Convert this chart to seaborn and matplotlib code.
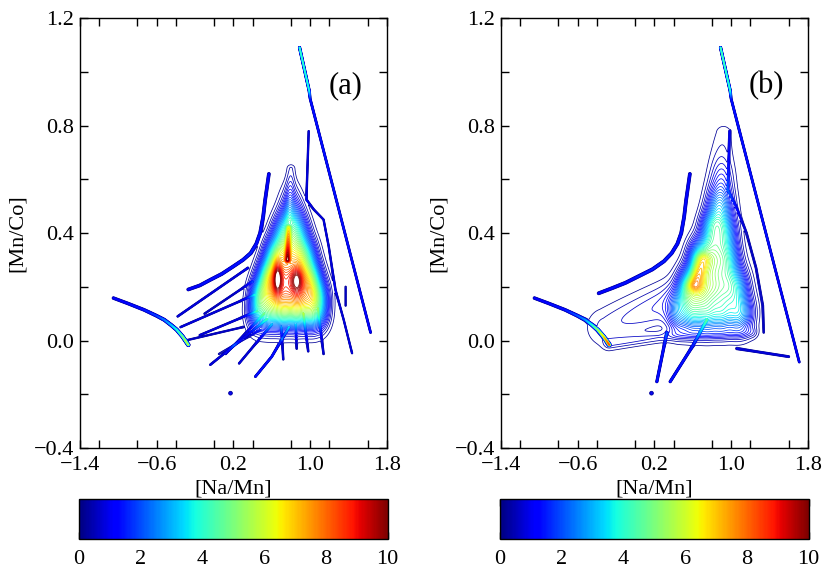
import numpy as np
import matplotlib
matplotlib.use("Agg")
import matplotlib.pyplot as plt
import seaborn as sns
from matplotlib.colors import Normalize
from matplotlib.cm import ScalarMappable
from matplotlib.ticker import FixedLocator, MultipleLocator, FuncFormatter

sns.set_theme(style="ticks")
plt.rcParams["font.family"] = ["Liberation Serif", "DejaVu Serif"]

# ---------------- labels / ticks ----------------
x_label = "[Na/Mn]"
y_label = "[Mn/Co]"
panel_labels = ["(a)", "(b)"]
x_ticks = [-1.4, -0.6, 0.2, 1.0, 1.8]
y_ticks = [-0.4, 0.0, 0.4, 0.8, 1.2]
cbar_ticks = [0, 2, 4, 6, 8, 10]
levels = np.arange(0.2, 10.01, 0.2)

# ---------------- density tracks (x, y, density at vertex) ----------------
long_a_x = [0.89, 0.99, 1.00, 1.63]
long_a_y = [1.09, 0.93, 0.90, 0.03]
long_a_d = [4.2, 3.8, 1.6, 1.3]
long_b_x = [0.89, 0.99, 1.00, 1.71]
long_b_y = [1.09, 0.93, 0.90, -0.08]
long_b_d = [4.4, 4.0, 1.6, 1.3]

left_x = [-1.05, -0.90, -0.73, -0.60, -0.52, -0.45, -0.39, -0.33, -0.27]
left_y = [0.158, 0.138, 0.114, 0.092, 0.077, 0.058, 0.040, 0.015, -0.016]
left_a_d = [1.3, 1.4, 1.6, 2.0, 2.6, 3.3, 4.0, 5.0, 5.8]
left_b_d = [1.3, 1.4, 1.6, 2.2, 2.8, 3.8, 5.0, 6.5, 7.8]

arc_a_x = [-0.27, -0.15, -0.04, 0.08, 0.20, 0.30, 0.38, 0.44, 0.48, 0.51, 0.53, 0.55, 0.57]
arc_a_y = [0.19, 0.205, 0.226, 0.248, 0.276, 0.30, 0.325, 0.36, 0.40, 0.46, 0.52, 0.57, 0.62]
arc_b_x = [-0.38, -0.24, -0.10, 0.04, 0.18, 0.30, 0.38, 0.44, 0.48, 0.51, 0.53, 0.55, 0.57]
arc_b_y = [0.176, 0.195, 0.215, 0.24, 0.265, 0.295, 0.325, 0.36, 0.40, 0.46, 0.52, 0.57, 0.62]
arc_d = [1.3, 1.4, 1.5, 1.6, 1.6, 1.6, 1.6, 1.5, 1.5, 1.4, 1.4, 1.3, 1.3]

branch_a_x = [0.985, 0.961, 1.04, 1.14, 1.194, 1.263, 1.35, 1.437]
branch_a_y = [0.779, 0.524, 0.487, 0.45, 0.35, 0.189, 0.077, -0.047]
branch_a_d = [0.9, 0.9, 0.9, 0.9, 0.9, 0.9, 0.9, 0.9]

branch_b_x = [0.985, 0.965, 1.05, 1.16, 1.26, 1.33, 1.34]
branch_b_y = [0.78, 0.56, 0.50, 0.40, 0.27, 0.13, 0.03]
branch_b_d = [0.9, 0.9, 0.8, 0.7, 0.7, 0.7, 0.6]

rays_a_x = [[0.35, -0.38], [0.42, -0.35], [0.45, -0.15], [0.55, -0.04],
            [0.60, 0.26], [0.78, 0.60, 0.43], [0.52, 0.12], [0.93, 0.98],
            [1.08, 1.14], [0.70, 0.72], [0.30, -0.30], [1.37, 1.37],
            [0.40, -0.10], [0.85, 0.86], [0.48, 0.05]]
rays_a_y = [[0.27, 0.09], [0.17, 0.05], [0.11, 0.02], [0.08, -0.09],
            [0.06, -0.085], [0.05, -0.06, -0.134], [0.10, -0.05], [0.10, -0.04],
            [0.12, -0.05], [0.05, -0.07], [0.05, 0.00], [0.20, 0.13],
            [0.22, 0.10], [0.06, -0.03], [0.04, -0.05]]
rays_a_d = [1.0, 0.9, 0.9, 1.0, 0.9, 1.5, 0.8, 0.8, 0.8, 0.8, 0.7, 0.6, 0.8, 0.7, 0.6]

rays_b_x = [[0.33, 0.226], [0.747, 0.60, 0.365], [1.06, 1.60]]
rays_b_y = [[0.03, -0.153], [0.077, -0.02, -0.153], [-0.03, -0.06]]
rays_b_d = [1.5, 1.5, 0.9]

dot_x = [0.17]
dot_y = [-0.196]
dot_d = [1.2]

# ---------------- central cloud: kernel centres and weights ----------------
cloud_a_x = [0.45, 0.58, 0.72, 0.86, 1.00, 1.10,
             0.48, 0.62, 0.75, 0.88, 1.00, 1.10,
             0.55, 0.66, 0.78, 0.90, 1.02,
             0.62, 0.74, 0.86, 0.97,
             0.70, 0.80, 0.90,
             0.77, 0.85,
             0.80]
cloud_a_y = [0.10] * 6 + [0.17] * 6 + [0.24] * 5 + [0.32] * 4 + [0.40] * 3 + [0.47] * 2 + [0.54]
cloud_a_w = [2.1, 2.6, 2.9, 2.9, 2.6, 1.7,
             3.1, 3.7, 3.9, 3.9, 3.3, 1.9,
             3.1, 4.0, 3.9, 4.0, 2.7,
             2.8, 3.5, 3.3, 2.2,
             2.0, 2.2, 1.7,
             1.1, 0.9,
             0.5]
spots_a_cx = [0.66, 0.86]
spots_a_cy = [0.235, 0.225]
spots_a_sx = [0.03, 0.04]
spots_a_sy = [0.045, 0.035]
spots_a_amp = [2.6, 2.0]
streak_a_x = [0.765, 0.775]
streak_a_y = [0.30, 0.42]
streak_a_d = [3.2, 2.0]
spike_a_x = [0.78, 0.80]
spike_a_y = [0.45, 0.64]
spike_a_d = [0.8, 0.4]

cloud_b_x = [0.45, 0.60, 0.75, 0.90, 1.05, 1.15,
             0.55, 0.68, 0.82, 0.96, 1.08,
             0.66, 0.78, 0.90, 1.00,
             0.78, 0.88, 0.97,
             0.86, 0.94,
             0.92]
cloud_b_y = [0.10] * 6 + [0.20] * 5 + [0.30] * 4 + [0.40] * 3 + [0.50] * 2 + [0.60]
cloud_b_w = [1.9, 2.5, 2.7, 2.6, 2.2, 1.4,
             2.9, 3.7, 3.1, 2.7, 2.0,
             3.2, 2.9, 2.4, 1.7,
             2.2, 2.0, 1.5,
             1.3, 1.0,
             0.6]
diag_b_x = [0.62, 0.70]
diag_b_y = [0.21, 0.30]
diag_b_d = [2.0, 1.5]
apex_b_x = [0.82, 0.92]
apex_b_y = [0.45, 0.77]
apex_b_d = [0.9, 0.3]
base_b_x = [-0.27, 0.40, 1.22]
base_b_y = [-0.01, 0.02, 0.03]
base_b_d = [0.5, 0.5, 0.45]
wing_b_x = [-0.30, 0.50]
wing_b_y = [0.05, 0.16]
wing_b_d = [0.5, 1.0]

# ---------------- field construction ----------------
SX, SY = 96.0, 269.0  # pixels per data unit
xg = np.linspace(-1.4, 1.8, 1200)
yg = np.linspace(-0.4, 1.2, 1400)
X, Y = np.meshgrid(xg, yg)


def ridge(xs, ys, ds, w):
    Z = np.zeros_like(X)
    Xp, Yp = X * SX, Y * SY
    for i in range(len(xs) - 1):
        x0, y0 = xs[i] * SX, ys[i] * SY
        x1, y1 = xs[i + 1] * SX, ys[i + 1] * SY
        dx, dy = x1 - x0, y1 - y0
        L2 = max(dx * dx + dy * dy, 1e-9)
        t = np.clip(((Xp - x0) * dx + (Yp - y0) * dy) / L2, 0, 1)
        d2 = (Xp - x0 - t * dx) ** 2 + (Yp - y0 - t * dy) ** 2
        a = ds[i] * (1 - t) + ds[i + 1] * t
        Z = np.maximum(Z, a * np.exp(-d2 / (2 * w * w)))
    return Z


def gauss(cx, cy, sx, sy, amp):
    Z = np.zeros_like(X)
    for a, b, c, d, e in zip(cx, cy, sx, sy, amp):
        Z += e * np.exp(-0.5 * (((X - a) / c) ** 2 + ((Y - b) / d) ** 2))
    return Z


def kernels(xs, ys, ws, sx, sy):
    return gauss(xs, ys, [sx] * len(xs), [sy] * len(xs), ws)


def dots(xs, ys, ds, w):
    Z = np.zeros_like(X)
    for a, b, e in zip(xs, ys, ds):
        Z += e * np.exp(-(((X - a) * SX) ** 2 + ((Y - b) * SY) ** 2) / (2 * w * w))
    return Z


Za = (ridge(long_a_x, long_a_y, long_a_d, 0.5)
      + ridge(left_x, left_y, left_a_d, 0.7)
      + ridge(arc_a_x, arc_a_y, arc_d, 0.75)
      + ridge(branch_a_x, branch_a_y, branch_a_d, 0.45)
      + dots(dot_x, dot_y, dot_d, 1.0)
      + kernels(cloud_a_x, cloud_a_y, cloud_a_w, 0.07, 0.045)
      + gauss(spots_a_cx, spots_a_cy, spots_a_sx, spots_a_sy, spots_a_amp)
      + ridge(streak_a_x, streak_a_y, streak_a_d, 1.5)
      + ridge(spike_a_x, spike_a_y, spike_a_d, 3.0))
for rx, ry, rd in zip(rays_a_x, rays_a_y, rays_a_d):
    Za = Za + ridge(rx, ry, [rd] * len(rx), 0.5)

Zb = (ridge(long_b_x, long_b_y, long_b_d, 0.5)
      + ridge(left_x, left_y, left_b_d, 0.7)
      + ridge(arc_b_x, arc_b_y, arc_d, 0.75)
      + ridge(branch_b_x, branch_b_y, branch_b_d, 0.55)
      + dots(dot_x, dot_y, dot_d, 1.0)
      + kernels(cloud_b_x, cloud_b_y, cloud_b_w, 0.075, 0.05)
      + ridge(diag_b_x, diag_b_y, diag_b_d, 5.0)
      + ridge(apex_b_x, apex_b_y, apex_b_d, 8.0)
      + ridge(base_b_x, base_b_y, base_b_d, 4.0)
      + ridge(wing_b_x, wing_b_y, wing_b_d, 14.0))
for rx, ry, rd in zip(rays_b_x, rays_b_y, rays_b_d):
    Zb = Zb + ridge(rx, ry, [rd] * len(rx), 0.6)

# ---------------- figure ----------------
fig = plt.figure(figsize=(8.32, 5.74), dpi=100)
norm = Normalize(vmin=0, vmax=10)
cmap = plt.get_cmap("jet")

ax_pos = [[0.096, 0.2195, 0.369, 0.749], [0.602, 0.2195, 0.369, 0.749]]
cb_pos = [[0.095, 0.061, 0.371, 0.070], [0.601, 0.061, 0.371, 0.070]]


def fmt(v, pos=None):
    s = f"{v:.1f}"
    if s == "-0.0":
        s = "0.0"
    return s.replace("-", "\u2212")


for k, Z in enumerate([Za, Zb]):
    ax = fig.add_axes(ax_pos[k])
    ax.contour(X, Y, Z, levels=levels, cmap=cmap, norm=norm, linewidths=0.55)
    ax.set_xlim(-1.4, 1.8)
    ax.set_ylim(-0.4, 1.2)
    ax.xaxis.set_major_locator(FixedLocator(x_ticks))
    ax.yaxis.set_major_locator(FixedLocator(y_ticks))
    ax.xaxis.set_minor_locator(MultipleLocator(0.4))
    ax.yaxis.set_minor_locator(MultipleLocator(0.2))
    ax.xaxis.set_major_formatter(FuncFormatter(fmt))
    ax.yaxis.set_major_formatter(FuncFormatter(fmt))
    ax.tick_params(which="both", direction="in", top=True, right=True,
                   length=6, width=1, color="black", labelsize=16,
                   labelcolor="black")
    ax.tick_params(axis="x", pad=6)
    ax.tick_params(axis="y", pad=4)
    for s in ax.spines.values():
        s.set_color("black")
        s.set_linewidth(1.0)
    ax.set_xlabel(x_label, fontsize=16, color="black", labelpad=3)
    ax.set_ylabel(y_label, fontsize=16, color="black", labelpad=5)
    ax.text(1.37, 0.95, panel_labels[k], fontsize=22, ha="center",
            va="center", color="black")

    cax = fig.add_axes(cb_pos[k])
    cb = fig.colorbar(ScalarMappable(norm=norm, cmap=cmap), cax=cax,
                      orientation="horizontal", ticks=cbar_ticks)
    cb.outline.set_edgecolor("black")
    cb.outline.set_linewidth(1.0)
    cax.tick_params(direction="in", top=True, bottom=True, length=5,
                    width=1, color="black", labelsize=16, labelcolor="black",
                    pad=8)
    cax.set_xticklabels([str(t) for t in cbar_ticks])

fig.savefig("out.png", dpi=100)
